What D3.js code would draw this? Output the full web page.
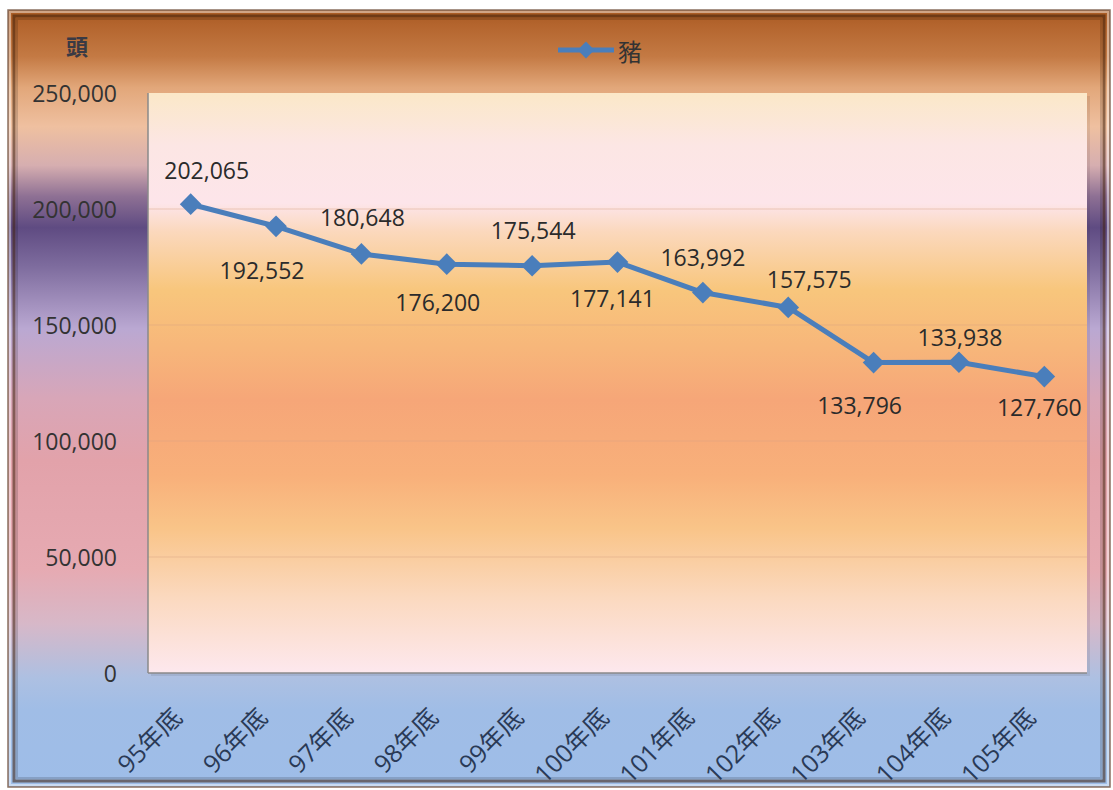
<!DOCTYPE html>
<html><head><meta charset="utf-8">
<script src="https://cdn.jsdelivr.net/npm/d3@7"></script>
<style>
html,body{margin:0;padding:0;background:#fff;}
svg{display:block;}
</style></head>
<body>
<svg id="chart" width="1113" height="790"></svg>
<script>
// ---- data ----
const categories = ["95年底","96年底","97年底","98年底","99年底","100年底","101年底","102年底","103年底","104年底","105年底"];
const seriesName = "豬";
const values = [202065,192552,180648,176200,175544,177141,163992,157575,133796,133938,127760];
const yTicks = [0,50000,100000,150000,200000,250000];
const yUnit = "頭";
// label placement relative to each point (layout only)
const labelOffsets = [[16,-34],[-14,44],[1,-37],[-9,38],[1,-36],[-5,36],[0,-36],[21,-28],[-14,42],[1,-25],[-5,30]];

const svg = d3.select("#chart");
const defs = svg.append("defs");

// outer background gradient
const og = defs.append("linearGradient").attr("id","outerG").attr("x1",0).attr("y1",0).attr("x2",0).attr("y2",1);
[[0,"#a85a22"],[0.02,"#b4652e"],[0.06,"#c47a44"],[0.10,"#e2a77a"],[0.15,"#efc0a0"],[0.20,"#d6aeb0"],[0.24,"#8e7094"],[0.28,"#5f4b82"],[0.33,"#7e6c9e"],[0.41,"#baa8d2"],[0.50,"#d8a6b8"],[0.58,"#e2a2aa"],[0.72,"#e6aab2"],[0.79,"#d7b8c8"],[0.86,"#adc0e2"],[0.90,"#a0bde6"],[1,"#9ebde8"]]
  .forEach(([o,c])=>og.append("stop").attr("offset",o).attr("stop-color",c));

// plot area gradient
const pg = defs.append("linearGradient").attr("id","plotG").attr("x1",0).attr("y1",0).attr("x2",0).attr("y2",1);
[[0,"#fbe8c8"],[0.09,"#fce6e4"],[0.19,"#fde5ea"],[0.24,"#fbd8bc"],[0.34,"#f8c67c"],[0.44,"#f7b67a"],[0.53,"#f6a678"],[0.66,"#f8b07a"],[0.75,"#f9c488"],[0.87,"#fbd9bf"],[1,"#fde8ee"]]
  .forEach(([o,c])=>pg.append("stop").attr("offset",o).attr("stop-color",c));

// frame
const fx = 8, fy = 10, fw = 1102, fh = 777;
svg.append("rect").attr("x",fx).attr("y",fy).attr("width",fw).attr("height",fh)
  .attr("fill","url(#outerG)").attr("stroke","#8a7060").attr("stroke-width",1.5);
svg.append("rect").attr("x",fx+2).attr("y",fy+2).attr("width",fw-4).attr("height",fh-4)
  .attr("fill","none").attr("stroke","rgba(255,255,255,0.45)").attr("stroke-width",2);
svg.append("rect").attr("x",fx+6).attr("y",fy+6).attr("width",fw-12).attr("height",fh-12)
  .attr("fill","none").attr("stroke","rgba(60,30,10,0.55)").attr("stroke-width",3);
svg.append("rect").attr("x",fx+9).attr("y",fy+9).attr("width",fw-18).attr("height",fh-18)
  .attr("fill","none").attr("stroke","rgba(0,0,0,0.15)").attr("stroke-width",2);

// plot area
const pl = 148, pt = 93, pr = 1087, pb = 673;
const x = d3.scaleBand().domain(categories).range([pl,pr]).paddingInner(0).paddingOuter(0);
const y = d3.scaleLinear().domain([0,250000]).range([pb,pt]);

svg.append("rect").attr("x",pl+3).attr("y",pt+3).attr("width",pr-pl).attr("height",pb-pt).attr("fill","rgba(0,0,0,0.08)");
svg.append("rect").attr("x",pl).attr("y",pt).attr("width",pr-pl).attr("height",pb-pt).attr("fill","url(#plotG)");

// gridlines
svg.append("g").selectAll("line").data(yTicks.filter(d=>d>0 && d<250000)).join("line")
  .attr("x1",pl).attr("x2",pr).attr("y1",d=>y(d)).attr("y2",d=>y(d))
  .attr("stroke","rgba(215,160,130,0.45)").attr("stroke-width",1);

// axes lines
svg.append("line").attr("x1",pl).attr("x2",pl).attr("y1",pt).attr("y2",pb).attr("stroke","#8a8a8a").attr("stroke-width",1.5);
svg.append("line").attr("x1",pl).attr("x2",pr).attr("y1",pb).attr("y2",pb).attr("stroke","#8a8a8a").attr("stroke-width",1.5);

const numFont = "'Open Sans','Noto Sans',sans-serif";
const cjkFont = "'Open Sans','Noto Sans CJK TC',sans-serif";
const fmt = d3.format(",");

// y axis via d3.axisLeft
const yAxis = svg.append("g").attr("transform",`translate(${pl},0)`)
  .call(d3.axisLeft(y).tickValues(yTicks).tickFormat(fmt).tickSize(0).tickPadding(31));
yAxis.select(".domain").remove();
yAxis.selectAll("text").attr("font-family",numFont).attr("font-size",23).attr("fill","#333")
  .attr("dy","0.35em");

// x axis labels
const xAxis = svg.append("g").attr("transform",`translate(0,${pb})`)
  .call(d3.axisBottom(x).tickSize(0).tickPadding(0));
xAxis.select(".domain").remove();
xAxis.selectAll("text")
  .attr("font-family",cjkFont).attr("font-size",25).attr("fill","#2a3a56")
  .attr("text-anchor","end").attr("dy","0.35em").attr("y",0)
  .attr("transform","translate(-13,40) rotate(-45)");

// unit label
svg.append("text").attr("x",77).attr("y",45).attr("text-anchor","middle").attr("dominant-baseline","central")
  .attr("font-family","'Noto Sans CJK TC',sans-serif").attr("font-weight","bold").attr("font-size",22).attr("fill","#3a3a44").text(yUnit);

// legend
const lg = svg.append("g");
lg.append("line").attr("x1",558).attr("x2",614).attr("y1",50).attr("y2",50).attr("stroke","#4a7ebb").attr("stroke-width",5);
lg.append("path").attr("d",d3.symbol(d3.symbolDiamond2, 180)()).attr("transform","translate(586,50)").attr("fill","#4a7ebb");
lg.append("text").attr("x",618).attr("y",50).attr("dominant-baseline","central")
  .attr("font-family","'Noto Sans CJK TC',sans-serif").attr("font-size",24).attr("fill","#333").text(seriesName);

// series line
const cx = (d,i)=>x(categories[i]) + x.bandwidth()/2;
const line = d3.line().x((d,i)=>cx(d,i)).y(d=>y(d));
svg.append("path").datum(values).attr("d",line).attr("fill","none")
  .attr("stroke","#4a7ebb").attr("stroke-width",5).attr("stroke-linejoin","round");

svg.append("g").selectAll("path").data(values).join("path")
  .attr("d",d3.symbol(d3.symbolDiamond2, 300)())
  .attr("transform",(d,i)=>`translate(${cx(d,i)},${y(d)})`)
  .attr("fill","#4a7ebb");

// data labels
svg.append("g").selectAll("text").data(values).join("text")
  .attr("x",(d,i)=>cx(d,i)+labelOffsets[i][0])
  .attr("y",(d,i)=>y(d)+labelOffsets[i][1])
  .attr("text-anchor","middle").attr("dominant-baseline","central")
  .attr("font-family",numFont).attr("font-size",23).attr("fill","#2b2b2b")
  .text(d=>fmt(d));
</script>
</body></html>
